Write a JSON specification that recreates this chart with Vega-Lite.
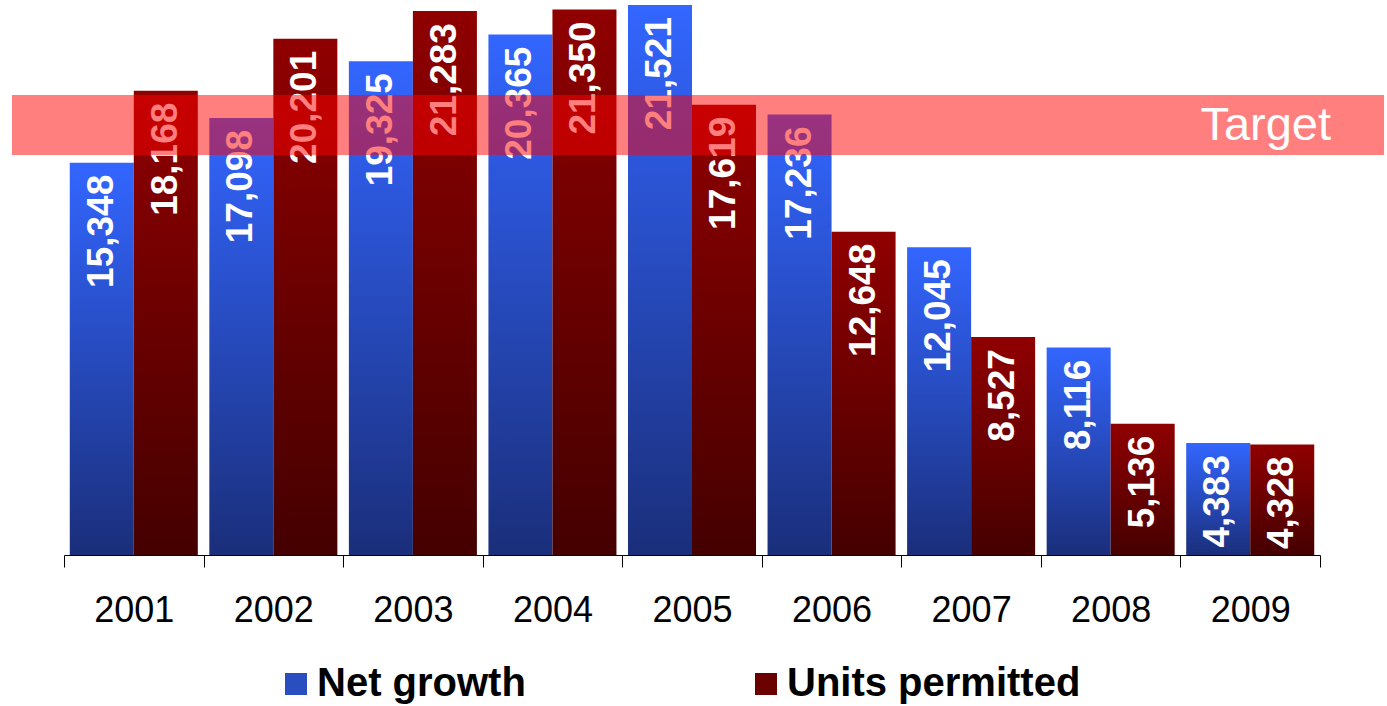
{
  "$schema": "https://vega.github.io/schema/vega-lite/v6.json",
  "autosize": "none",
  "width": 1256,
  "height": 555,
  "padding": {"left": 64, "top": 0, "right": 67, "bottom": 151},
  "background": "white",
  "config": {"view": {"stroke": null}, "font": "Liberation Sans"},
  "resolve": {"scale": {"x": "independent"}},
  "layer": [
    {
      "data": {
        "values": [
          {"year": "2001", "series": "Net growth", "value": 15348},
          {"year": "2001", "series": "Units permitted", "value": 18168},
          {"year": "2002", "series": "Net growth", "value": 17098},
          {"year": "2002", "series": "Units permitted", "value": 20201},
          {"year": "2003", "series": "Net growth", "value": 19325},
          {"year": "2003", "series": "Units permitted", "value": 21283},
          {"year": "2004", "series": "Net growth", "value": 20365},
          {"year": "2004", "series": "Units permitted", "value": 21350},
          {"year": "2005", "series": "Net growth", "value": 21521},
          {"year": "2005", "series": "Units permitted", "value": 17619},
          {"year": "2006", "series": "Net growth", "value": 17236},
          {"year": "2006", "series": "Units permitted", "value": 12648},
          {"year": "2007", "series": "Net growth", "value": 12045},
          {"year": "2007", "series": "Units permitted", "value": 8527},
          {"year": "2008", "series": "Net growth", "value": 8116},
          {"year": "2008", "series": "Units permitted", "value": 5136},
          {"year": "2009", "series": "Net growth", "value": 4383},
          {"year": "2009", "series": "Units permitted", "value": 4328}
        ]
      },
      "encoding": {
        "x": {
          "field": "year", "type": "nominal",
          "scale": {"paddingInner": 0, "paddingOuter": 0},
          "axis": {
            "title": null, "labelAngle": 0, "labelFontSize": 36, "labelColor": "#000",
            "labelFont": "Liberation Sans", "tickBand": "extent", "tickSize": 12,
            "tickColor": "#000", "domainColor": "#000", "labelPadding": 26
          }
        },
        "xOffset": {"field": "series", "type": "nominal", "scale": {"paddingInner": 0, "paddingOuter": 0.09}},
        "y": {"field": "value", "type": "quantitative", "scale": {"domain": [0, 21717], "nice": false, "zero": true}, "axis": null}
      },
      "layer": [
        {
          "mark": {"type": "bar", "strokeWidth": 0, "opacity": 1},
          "encoding": {
            "color": {
              "condition": [
                {"test": "datum.series === 'Net growth'", "value": {"gradient": "linear", "x1": 0, "y1": 0, "x2": 0, "y2": 1, "stops": [{"offset": 0, "color": "#3366ff"}, {"offset": 1, "color": "#1a2e7a"}]}},
                {"test": "datum.series === 'Units permitted'", "value": {"gradient": "linear", "x1": 0, "y1": 0, "x2": 0, "y2": 1, "stops": [{"offset": 0, "color": "#900000"}, {"offset": 1, "color": "#450000"}]}}
              ],
              "field": "series", "type": "nominal",
              "scale": {"domain": ["Net growth", "Units permitted"], "range": ["#2a4ec0", "#6a0000"]},
              "legend": {
                "title": null, "orient": "none", "direction": "horizontal", "legendX": 212, "legendY": 664,
                "symbolType": "square", "symbolSize": 484, "symbolStrokeWidth": 0, "symbolOpacity": 1,
                "labelFont": "Liberation Sans", "labelFontSize": 40, "labelFontWeight": "bold", "labelColor": "#000",
                "labelOffset": 1, "columnPadding": 220, "labelLimit": 500
              }
            }
          }
        },
        {
          "mark": {"type": "text", "angle": 270, "align": "right", "baseline": "middle", "dx": -12, "color": "white", "fontSize": 37, "fontWeight": "bold", "font": "Liberation Sans"},
          "encoding": {
            "text": {"field": "value", "type": "quantitative", "format": ",d"}
          }
        }
      ]
    },
    {
      "data": {"values": [{"label": "Target", "low": 15650, "high": 18000}]},
      "layer": [
        {
          "mark": {"type": "rect", "fill": "#ff0000", "fillOpacity": 0.5, "strokeWidth": 0},
          "encoding": {
            "x": {"datum": -0.0414, "type": "quantitative", "scale": {"domain": [0, 1], "nice": false, "zero": false}, "axis": null},
            "x2": {"datum": 1.051},
            "y": {"field": "low", "type": "quantitative"},
            "y2": {"field": "high"}
          }
        },
        {
          "mark": {"type": "text", "align": "right", "baseline": "middle", "color": "white", "fontSize": 47, "font": "Liberation Sans", "dy": 1},
          "encoding": {
            "x": {"datum": 1.0088, "type": "quantitative", "scale": {"domain": [0, 1], "nice": false, "zero": false}, "axis": null},
            "y": {"datum": 16825, "type": "quantitative"},
            "text": {"field": "label"}
          }
        }
      ]
    }
  ]
}
